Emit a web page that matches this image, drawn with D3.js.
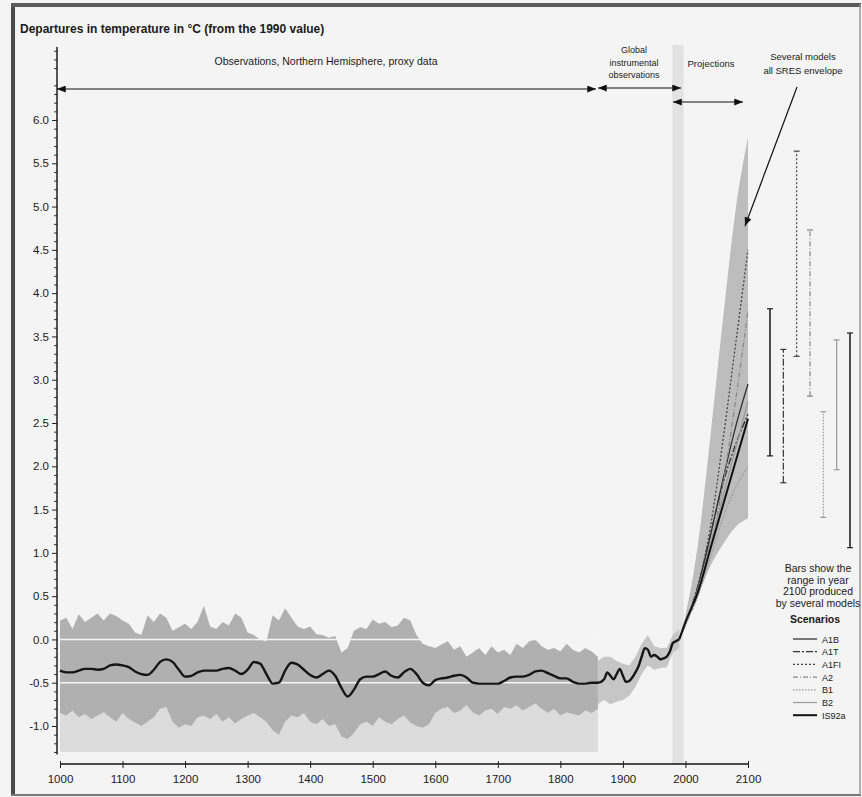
<!DOCTYPE html>
<html>
<head>
<meta charset="utf-8">
<script src="https://d3js.org/d3.v7.min.js"></script>
<style>
  body { margin:0; background:#f4f4f4; }
  text { font-family: "Liberation Sans", Arial, sans-serif; fill:#1a1a1a; }
</style>
</head>
<body>
<script>
// ---- data ----
var proxyYears = d3.range(1000, 1870, 10);
var proxyHi = [0.22,0.25,0.12,0.29,0.20,0.25,0.30,0.22,0.30,0.27,
               0.22,0.18,0.08,0.05,0.28,0.20,0.30,0.25,0.10,0.14,
               0.18,0.12,0.20,0.39,0.15,0.12,0.20,0.16,0.30,0.25,
               0.08,0.05,0.00,-0.02,0.28,0.22,0.36,0.25,0.15,0.12,
               0.15,0.06,0.05,0.02,0.04,-0.15,-0.10,0.10,0.14,0.12,
               0.23,0.18,0.20,0.14,0.16,0.25,0.22,0.05,-0.05,-0.08,
               -0.10,-0.06,-0.02,-0.12,-0.08,-0.20,-0.15,-0.10,-0.18,-0.08,
               -0.15,-0.12,-0.18,-0.05,-0.10,-0.02,0.00,-0.08,-0.12,-0.10,
               -0.14,-0.05,-0.12,-0.15,-0.10,-0.14,-0.20];
var proxyLo = [-0.85,-0.88,-0.82,-0.90,-0.86,-0.92,-0.88,-0.84,-0.90,-0.95,
               -0.85,-0.92,-0.96,-1.00,-0.95,-0.90,-0.80,-0.78,-0.95,-1.02,
               -0.98,-1.00,-0.90,-0.88,-0.92,-0.86,-0.95,-0.90,-0.97,-0.92,
               -0.88,-0.85,-0.90,-0.95,-1.05,-1.10,-0.95,-0.88,-0.90,-0.85,
               -0.95,-0.98,-0.92,-1.00,-0.98,-1.12,-1.15,-1.08,-0.98,-0.95,
               -1.00,-0.90,-0.95,-0.98,-0.92,-0.88,-0.96,-1.00,-1.02,-0.98,
               -0.85,-0.80,-0.78,-0.85,-0.82,-0.76,-0.84,-0.88,-0.82,-0.80,
               -0.86,-0.78,-0.80,-0.76,-0.82,-0.78,-0.74,-0.80,-0.85,-0.80,
               -0.88,-0.84,-0.86,-0.88,-0.82,-0.85,-0.80];
var proxySmooth = [-0.36,-0.38,-0.38,-0.36,-0.34,-0.34,-0.35,-0.34,-0.30,-0.29,
                   -0.30,-0.32,-0.37,-0.40,-0.41,-0.35,-0.26,-0.23,-0.26,-0.35,
                   -0.43,-0.42,-0.38,-0.36,-0.36,-0.36,-0.34,-0.33,-0.36,-0.40,
                   -0.35,-0.26,-0.28,-0.40,-0.51,-0.50,-0.36,-0.27,-0.29,-0.35,
                   -0.41,-0.44,-0.40,-0.36,-0.42,-0.56,-0.66,-0.58,-0.46,-0.43,
                   -0.43,-0.40,-0.37,-0.42,-0.44,-0.38,-0.34,-0.40,-0.50,-0.53,
                   -0.47,-0.45,-0.44,-0.42,-0.41,-0.44,-0.50,-0.51,-0.51,-0.51,
                   -0.51,-0.48,-0.44,-0.43,-0.43,-0.41,-0.37,-0.36,-0.39,-0.42,
                   -0.45,-0.45,-0.49,-0.51,-0.51,-0.50,-0.50];
var proxyBase = -1.3;

var instrYears  = [1860,1870,1875,1880,1885,1890,1895,1900,1905,1910,1915,1920,1925,1930,1935,1940,1945,1950,1955,1960,1965,1970,1975,1980,1985,1990];
var instrSmooth = [-0.50,-0.46,-0.38,-0.42,-0.46,-0.40,-0.34,-0.42,-0.49,-0.48,-0.44,-0.38,-0.31,-0.20,-0.10,-0.12,-0.20,-0.18,-0.20,-0.23,-0.22,-0.20,-0.14,-0.04,-0.02,0.00];
var instrSpikeYears = [1860,1870,1880,1890,1900,1910,1920,1930,1940,1950,1960,1970,1980,1990];
var instrHi = [-0.25,-0.20,-0.20,-0.25,-0.28,-0.30,-0.20,-0.05,0.05,-0.08,-0.10,-0.10,0.05,0.12];
var instrLo = [-0.75,-0.70,-0.75,-0.72,-0.70,-0.65,-0.55,-0.40,-0.30,-0.35,-0.33,-0.32,-0.15,-0.10];

var projYears = [1990,2000,2020,2040,2060,2080,2100];
var envHi = [0,0.28,1.10,2.35,3.70,4.95,5.80];
var envLo = [0,0.15,0.50,0.85,1.10,1.30,1.40];

var scenarios = ["A1B","A1T","A1FI","A2","B1","B2","IS92a"];
var scenarioTemps = {
  "A1B":   [0,0.18,0.60,1.20,1.85,2.45,2.95],
  "A1T":   [0,0.18,0.62,1.22,1.80,2.25,2.60],
  "A1FI":  [0,0.18,0.62,1.30,2.30,3.40,4.50],
  "A2":    [0,0.17,0.52,1.05,1.80,2.75,3.80],
  "B1":    [0,0.17,0.50,0.95,1.40,1.75,2.00],
  "B2":    [0,0.18,0.58,1.10,1.65,2.20,2.75],
  "IS92a": [0,0.20,0.55,1.05,1.55,2.05,2.55]
};
var rangeLow  = [2.12,1.81,3.27,2.81,1.41,1.96,1.06];
var rangeHigh = [3.82,3.35,5.64,4.73,2.63,3.46,3.54];

var yTicks = [-1.0,-0.5,0.0,0.5,1.0,1.5,2.0,2.5,3.0,3.5,4.0,4.5,5.0,5.5,6.0];
var xTicks = [1000,1100,1200,1300,1400,1500,1600,1700,1800,1900,2000,2100];

// ---- styles per scenario ----
var sStyle = {
  "A1B":   {c:"#333", w:1.1, d:null},
  "A1T":   {c:"#333", w:1.1, d:"7,2,2,2"},
  "A1FI":  {c:"#444", w:1.1, d:"2,2"},
  "A2":    {c:"#888", w:1,   d:"5,2,1,2"},
  "B1":    {c:"#999", w:1,   d:"1.5,1.5"},
  "B2":    {c:"#999", w:1,   d:null},
  "IS92a": {c:"#111", w:1.8, d:null}
};

var W = 862, H = 797;
var svg = d3.select("body").append("svg").attr("width", W).attr("height", H);
svg.append("rect").attr("width", W).attr("height", H).attr("fill", "#f4f4f4");

var defs = svg.append("defs");
defs.append("marker").attr("id","arr").attr("viewBox","0 0 10 8")
  .attr("refX",10).attr("refY",4).attr("markerWidth",9).attr("markerHeight",7)
  .attr("markerUnits","userSpaceOnUse").attr("orient","auto-start-reverse")
  .append("path").attr("d","M0,0L10,4L0,8Z").attr("fill","#111");

var x = d3.scaleLinear().domain([1000,2100]).range([60,748]);
var y = d3.scaleLinear().domain([-1,6]).range([726,120]);

// frame
svg.append("line").attr("x1",13).attr("x2",13).attr("y1",4).attr("y2",795).attr("stroke","#4a4a4a").attr("stroke-width",4);
svg.append("line").attr("x1",11).attr("x2",861).attr("y1",5).attr("y2",5).attr("stroke","#5a5a5a").attr("stroke-width",4);
svg.append("line").attr("x1",11).attr("x2",861).attr("y1",795).attr("y2",795).attr("stroke","#777").attr("stroke-width",2);
svg.append("line").attr("x1",860).attr("x2",860).attr("y1",4).attr("y2",795).attr("stroke","#999").attr("stroke-width",1.5);

// 1990 reference band
svg.append("rect").attr("x", x(1979)).attr("width", x(1997)-x(1979))
  .attr("y", 45).attr("height", 764-45).attr("fill","#d6d6d6").attr("opacity",0.6);

// proxy light base
var pts = proxyYears.map(function(d,i){ return {yr:d, hi:proxyHi[i], lo:proxyLo[i], sm:proxySmooth[i]}; });
svg.append("path").datum(pts)
  .attr("d", d3.area().x(function(d){return x(d.yr);}).y0(y(proxyBase)).y1(function(d){return y(d.lo+0.3);}))
  .attr("fill","#dcdcdc");
// proxy spiky band
svg.append("path").datum(pts)
  .attr("d", d3.area().x(function(d){return x(d.yr);}).y0(function(d){return y(d.lo);}).y1(function(d){return y(d.hi);}))
  .attr("fill","#b0b0b0");

// white lines across the proxy band
[0.0,-0.5].forEach(function(v){
  svg.append("line").attr("x1",x(1000)).attr("x2",x(1860)).attr("y1",y(v)).attr("y2",y(v))
    .attr("stroke","#f6f6f6").attr("stroke-width",1.6);
});

// instrumental spikes
var ipts = instrSpikeYears.map(function(d,i){ return {yr:d, hi:instrHi[i], lo:instrLo[i]}; });
svg.append("path").datum(ipts)
  .attr("d", d3.area().x(function(d){return x(d.yr);}).y0(function(d){return y(d.lo);}).y1(function(d){return y(d.hi);}))
  .attr("fill","#c6c6c6");

// projection envelope
var epts = projYears.map(function(d,i){ return {yr:d, hi:envHi[i], lo:envLo[i]}; });
svg.append("path").datum(epts)
  .attr("d", d3.area().curve(d3.curveMonotoneX).x(function(d){return x(d.yr);})
    .y0(function(d){return y(d.lo);}).y1(function(d){return y(d.hi);}))
  .attr("fill","#bdbdbd");

// scenario lines
scenarios.forEach(function(s){
  var st = sStyle[s];
  svg.append("path").datum(scenarioTemps[s])
    .attr("d", d3.line().curve(d3.curveMonotoneX).x(function(d,i){return x(projYears[i]);}).y(function(d){return y(d);}))
    .attr("fill","none").attr("stroke",st.c).attr("stroke-width", s==="IS92a"?2:st.w+0.2)
    .attr("stroke-dasharray", st.d);
});

// black smoothed observation line
var obs = proxyYears.map(function(d,i){return [d, proxySmooth[i]];})
  .concat(instrYears.slice(1).map(function(d,i){return [d, instrSmooth[i+1]];}));
svg.append("path").datum(obs)
  .attr("d", d3.line().curve(d3.curveMonotoneX).x(function(d){return x(d[0]);}).y(function(d){return y(d[1]);}))
  .attr("fill","none").attr("stroke","#151515").attr("stroke-width",2.4).attr("stroke-linejoin","round");

// y axis
var axX = 57;
var yMinor = d3.range(-13, 69).map(function(d){return d/10;}).filter(function(v){return Math.abs(v*2 - Math.round(v*2))>1e-6;});
var gy = svg.append("g").attr("transform","translate("+axX+",0)");
gy.call(d3.axisLeft(y).tickValues(yTicks).tickSize(5).tickPadding(3).tickFormat(function(d){return d.toFixed(1);}));
gy.call(function(g){ g.select(".domain").remove(); });
gy.selectAll("text").attr("font-size","11.5px").attr("font-family","'Liberation Sans', Arial, sans-serif").attr("fill","#1a1a1a");
gy.selectAll("line").attr("stroke","#222");
var gyM = svg.append("g").attr("transform","translate("+axX+",0)");
gyM.call(d3.axisLeft(y).tickValues(yMinor).tickSize(3).tickFormat(""));
gyM.select(".domain").remove();
gyM.selectAll("line").attr("stroke","#333");
svg.append("line").attr("x1",axX).attr("x2",axX).attr("y1",47).attr("y2",y(-1.33)).attr("stroke","#111").attr("stroke-width",1.4);

// x axis
var gx = svg.append("g").attr("transform","translate(0,764)");
gx.call(d3.axisBottom(x).tickValues(xTicks).tickSize(4).tickPadding(7).tickFormat(d3.format("d")));
gx.select(".domain").attr("d","M"+x(1000)+",0H"+x(2100)).attr("stroke","#111").attr("stroke-width",1.3);
gx.selectAll(".tick line").attr("y1",-3).attr("stroke","#222");
gx.selectAll("text").attr("font-size","11.5px").attr("font-family","'Liberation Sans', Arial, sans-serif").attr("fill","#1a1a1a");

// range bars at 2100
var bx = d3.scalePoint().domain(scenarios).range([770,850]);
scenarios.forEach(function(s,i){
  var st = sStyle[s];
  var g = svg.append("g");
  var col = (s==="A1B"||s==="IS92a") ? "#222" : st.c;
  g.append("line").attr("x1",bx(s)).attr("x2",bx(s)).attr("y1",y(rangeLow[i])).attr("y2",y(rangeHigh[i]))
    .attr("stroke",col).attr("stroke-width", (s==="A1B"||s==="IS92a")?1.6:1.2).attr("stroke-dasharray", st.d);
  [rangeLow[i], rangeHigh[i]].forEach(function(v){
    g.append("line").attr("x1",bx(s)-3).attr("x2",bx(s)+3).attr("y1",y(v)).attr("y2",y(v)).attr("stroke",col).attr("stroke-width",1.2);
  });
});

// annotations
svg.append("text").attr("x",20).attr("y",33).attr("font-size","12px").attr("font-weight","bold")
  .text("Departures in temperature in \u00B0C (from the 1990 value)");
svg.append("text").attr("x",326).attr("y",65).attr("text-anchor","middle").attr("font-size","10.5px")
  .text("Observations, Northern Hemisphere, proxy data");
svg.append("line").attr("x1",axX).attr("x2",596).attr("y1",89).attr("y2",89).attr("stroke","#111").attr("stroke-width",1.2)
  .attr("marker-start","url(#arr)").attr("marker-end","url(#arr)");
var gl = svg.append("text").attr("text-anchor","middle").attr("font-size","9px");
[["Global",53],["instrumental",66],["observations",78]].forEach(function(t){
  gl.append("tspan").attr("x",634).attr("y",t[1]).text(t[0]);
});
svg.append("line").attr("x1",598).attr("x2",681).attr("y1",88).attr("y2",88).attr("stroke","#111").attr("stroke-width",1.2)
  .attr("marker-start","url(#arr)").attr("marker-end","url(#arr)");
svg.append("text").attr("x",711).attr("y",67).attr("text-anchor","middle").attr("font-size","9.5px").text("Projections");
svg.append("line").attr("x1",673).attr("x2",743).attr("y1",102).attr("y2",102).attr("stroke","#111").attr("stroke-width",1.2)
  .attr("marker-start","url(#arr)").attr("marker-end","url(#arr)");
var sm = svg.append("text").attr("text-anchor","middle").attr("font-size","9.5px");
[["Several models",60],["all SRES envelope",74]].forEach(function(t){
  sm.append("tspan").attr("x",803).attr("y",t[1]).text(t[0]);
});
svg.append("line").attr("x1",797).attr("x2",745).attr("y1",87).attr("y2",226).attr("stroke","#111").attr("stroke-width",1.2)
  .attr("marker-end","url(#arr)");

// bars note
var bn = svg.append("text").attr("text-anchor","middle").attr("font-size","10.5px");
["Bars show the","range in year","2100 produced","by several models"].forEach(function(t,i){
  bn.append("tspan").attr("x",818).attr("y",572 + i*11.6).text(t);
});

// legend
svg.append("text").attr("x",815).attr("y",623).attr("text-anchor","middle").attr("font-size","10.5px").attr("font-weight","bold").text("Scenarios");
scenarios.forEach(function(s,i){
  var st = sStyle[s];
  var yy = 639 + i*12.7;
  svg.append("line").attr("x1",793).attr("x2",817).attr("y1",yy).attr("y2",yy)
    .attr("stroke",st.c).attr("stroke-width",st.w+0.2).attr("stroke-dasharray",st.d);
  svg.append("text").attr("x",822).attr("y",yy+3.5).attr("font-size","9px").text(s);
});
</script>
</body>
</html>
